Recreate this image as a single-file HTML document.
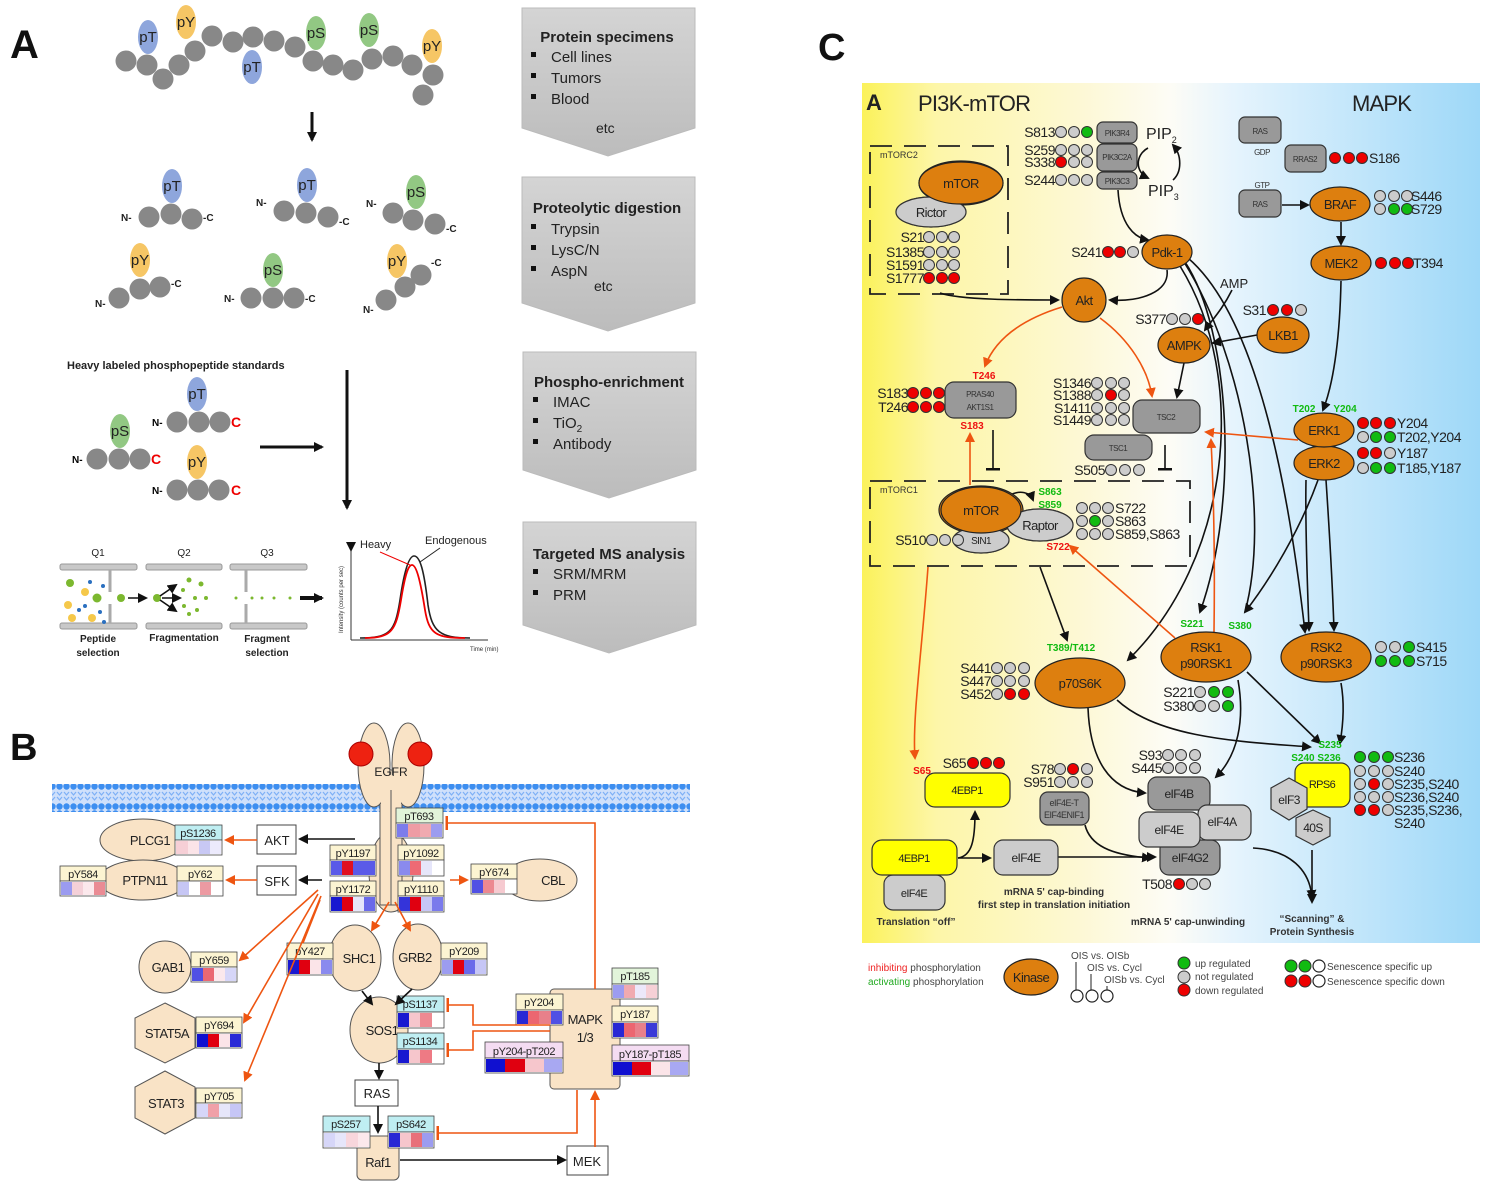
<!DOCTYPE html>
<html><head><meta charset="utf-8"><style>
body{margin:0;background:#fff}
svg{display:block;font-family:"Liberation Sans",Arial,sans-serif}
.t{font-size:14px;fill:#222}
.s{font-size:9px;fill:#222}
.n{font-size:13px;fill:#222;letter-spacing:-0.6px}
.g{fill:#ccc;stroke:#333;stroke-width:1}
.r{fill:#e00;stroke:#333;stroke-width:1}
.gr{fill:#1b1;stroke:#333;stroke-width:1}
.w{fill:#fff;stroke:#222;stroke-width:1.2}
.k{fill:#dd7f0f;stroke:#222;stroke-width:1.2}
.bx{fill:#999;stroke:#333;stroke-width:1.2}
.lb{fill:#ccc;stroke:#333;stroke-width:1.2}
.y{fill:#ff0;stroke:#333;stroke-width:1.2}
.ar{fill:none;stroke:#111;stroke-width:1.6}
.rd{fill:none;stroke:#e51;stroke-width:1.6}
.bb{fill:#888}
.hx{fill:#fff;stroke:#444;stroke-width:1}
.tan{fill:#f9e3c6;stroke:#555;stroke-width:1}
</style></head><body>
<svg width="1488" height="1185" viewBox="0 0 1488 1185" xmlns="http://www.w3.org/2000/svg">
<defs>
<marker id="ab" markerWidth="10" markerHeight="10" refX="8" refY="5" orient="auto" markerUnits="userSpaceOnUse"><path d="M0,0 L10,5 L0,10 z" fill="#111"/></marker>
<marker id="ar" markerWidth="10" markerHeight="10" refX="8" refY="5" orient="auto" markerUnits="userSpaceOnUse"><path d="M0,0 L10,5 L0,10 z" fill="#e51"/></marker>
<marker id="tb" markerWidth="4" markerHeight="14" refX="2" refY="7" orient="auto" markerUnits="userSpaceOnUse"><rect x="0" y="0" width="2.5" height="14" fill="#111"/></marker>
<marker id="tr" markerWidth="4" markerHeight="14" refX="2" refY="7" orient="auto" markerUnits="userSpaceOnUse"><rect x="0" y="0" width="2.5" height="14" fill="#e51"/></marker>
<linearGradient id="bg" x1="0" x2="1" y1="0" y2="0">
<stop offset="0" stop-color="#fbf25a"/><stop offset="0.12" stop-color="#fdf6a8"/><stop offset="0.35" stop-color="#fdf8d4"/><stop offset="0.5" stop-color="#fdfcf6"/><stop offset="0.6" stop-color="#e6f4fd"/><stop offset="1" stop-color="#9ed8f8"/></linearGradient>
<linearGradient id="gb" x1="0" x2="0" y1="0" y2="1"><stop offset="0" stop-color="#d4d4d4"/><stop offset="1" stop-color="#bcbcbc"/></linearGradient>
<pattern id="mem" width="7" height="27" patternUnits="userSpaceOnUse"><rect width="7" height="27" fill="#cfe0fb"/><circle cx="3.5" cy="3.5" r="3.2" fill="#3d8ef0"/><circle cx="3.5" cy="23.5" r="3.2" fill="#3d8ef0"/><path d="M1,9 L3.5,12 L6,9 M1,14 L3.5,17 L6,14" stroke="#7eb0f6" fill="none" stroke-width="1.2"/></pattern>
</defs>

<!-- ===== PANEL A ===== -->
<text x="10" y="58" font-size="40" font-weight="bold" fill="#111">A</text>
<g fill="#888">
<circle cx="126" cy="61" r="10.5"/><circle cx="147" cy="65" r="10.5"/><circle cx="163" cy="79" r="10.5"/><circle cx="179" cy="65" r="10.5"/><circle cx="195" cy="51" r="10.5"/><circle cx="212" cy="36" r="10.5"/><circle cx="233" cy="42" r="10.5"/><circle cx="253" cy="37" r="10.5"/><circle cx="274" cy="41" r="10.5"/><circle cx="295" cy="47" r="10.5"/><circle cx="313" cy="61" r="10.5"/><circle cx="333" cy="65" r="10.5"/><circle cx="353" cy="70" r="10.5"/><circle cx="372" cy="59" r="10.5"/><circle cx="393" cy="56" r="10.5"/><circle cx="412" cy="65" r="10.5"/><circle cx="433" cy="75" r="10.5"/><circle cx="423" cy="95" r="10.5"/>
</g>
<g font-size="15" text-anchor="middle" fill="#222">
<ellipse cx="148" cy="37" rx="10" ry="17" fill="#8ea6dc"/><text x="148" y="42">pT</text>
<ellipse cx="186" cy="22" rx="10" ry="17" fill="#f6c665"/><text x="186" y="27">pY</text>
<ellipse cx="252" cy="67" rx="10" ry="17" fill="#8ea6dc"/><text x="252" y="72">pT</text>
<ellipse cx="316" cy="33" rx="10" ry="17" fill="#92c883"/><text x="316" y="38">pS</text>
<ellipse cx="369" cy="30" rx="10" ry="17" fill="#92c883"/><text x="369" y="35">pS</text>
<ellipse cx="432" cy="46" rx="10" ry="17" fill="#f6c665"/><text x="432" y="51">pY</text>
</g>
<line x1="312" y1="112" x2="312" y2="140" stroke="#111" stroke-width="3" marker-end="url(#ab)"/>
<!-- peptides -->
<g font-size="15" text-anchor="middle" fill="#222">
<ellipse cx="172" cy="186" rx="10" ry="17" fill="#8ea6dc"/><text x="172" y="191">pT</text>
<ellipse cx="307" cy="185" rx="10" ry="17" fill="#8ea6dc"/><text x="307" y="190">pT</text>
<ellipse cx="416" cy="192" rx="10" ry="17" fill="#92c883"/><text x="416" y="197">pS</text>
<ellipse cx="140" cy="260" rx="10" ry="17" fill="#f6c665"/><text x="140" y="265">pY</text>
<ellipse cx="273" cy="270" rx="10" ry="17" fill="#92c883"/><text x="273" y="275">pS</text>
<ellipse cx="397" cy="261" rx="10" ry="17" fill="#f6c665"/><text x="397" y="266">pY</text>
</g>
<g fill="#888">
<circle cx="149" cy="217" r="10.5"/><circle cx="171" cy="214" r="10.5"/><circle cx="192" cy="219" r="10.5"/>
<circle cx="284" cy="211" r="10.5"/><circle cx="306" cy="213" r="10.5"/><circle cx="328" cy="217" r="10.5"/>
<circle cx="393" cy="213" r="10.5"/><circle cx="413" cy="220" r="10.5"/><circle cx="435" cy="224" r="10.5"/>
<circle cx="119" cy="298" r="10.5"/><circle cx="140" cy="289" r="10.5"/><circle cx="160" cy="287" r="10.5"/>
<circle cx="251" cy="298" r="10.5"/><circle cx="273" cy="298" r="10.5"/><circle cx="294" cy="298" r="10.5"/>
<circle cx="386" cy="300" r="10.5"/><circle cx="405" cy="287" r="10.5"/><circle cx="421" cy="275" r="10.5"/>
</g>
<g font-size="10" font-weight="bold" fill="#222">
<text x="121" y="221">N-</text><text x="203" y="221">-C</text>
<text x="256" y="206">N-</text><text x="339" y="225">-C</text>
<text x="366" y="207">N-</text><text x="446" y="232">-C</text>
<text x="95" y="307">N-</text><text x="171" y="287">-C</text>
<text x="224" y="302">N-</text><text x="305" y="302">-C</text>
<text x="363" y="313">N-</text><text x="431" y="266">-C</text>
</g>
<text x="67" y="369" font-size="11" font-weight="bold" fill="#222">Heavy labeled phosphopeptide standards</text>
<g font-size="15" text-anchor="middle" fill="#222">
<ellipse cx="120" cy="431" rx="10" ry="17" fill="#92c883"/><text x="120" y="436">pS</text>
<ellipse cx="197" cy="394" rx="10" ry="17" fill="#8ea6dc"/><text x="197" y="399">pT</text>
<ellipse cx="197" cy="462" rx="10" ry="17" fill="#f6c665"/><text x="197" y="467">pY</text>
</g>
<g fill="#888">
<circle cx="97" cy="459" r="10.5"/><circle cx="119" cy="459" r="10.5"/><circle cx="140" cy="459" r="10.5"/>
<circle cx="177" cy="422" r="10.5"/><circle cx="199" cy="422" r="10.5"/><circle cx="220" cy="422" r="10.5"/>
<circle cx="177" cy="490" r="10.5"/><circle cx="198" cy="490" r="10.5"/><circle cx="219" cy="490" r="10.5"/>
</g>
<g font-size="10" font-weight="bold"><text x="72" y="463">N-</text><text x="152" y="426">N-</text><text x="152" y="494">N-</text>
<text x="151" y="464" fill="#e00" font-size="14">C</text><text x="231" y="427" fill="#e00" font-size="14">C</text><text x="231" y="495" fill="#e00" font-size="14">C</text></g>
<line x1="260" y1="447" x2="322" y2="447" stroke="#111" stroke-width="3" marker-end="url(#ab)"/>
<line x1="347" y1="370" x2="347" y2="508" stroke="#111" stroke-width="3" marker-end="url(#ab)"/>
<!-- MS diagram -->
<g font-size="10" text-anchor="middle" fill="#222"><text x="98" y="556">Q1</text><text x="184" y="556">Q2</text><text x="267" y="556">Q3</text>
<g font-weight="bold"><text x="98" y="642">Peptide</text><text x="98" y="656">selection</text><text x="184" y="641">Fragmentation</text><text x="267" y="642">Fragment</text><text x="267" y="656">selection</text></g></g>
<g fill="#c8c8c8" stroke="#999"><rect x="60" y="564" width="77" height="6" rx="2"/><rect x="146" y="564" width="76" height="6" rx="2"/><rect x="230" y="564" width="77" height="6" rx="2"/>
<rect x="60" y="623" width="77" height="6" rx="2"/><rect x="146" y="623" width="76" height="6" rx="2"/><rect x="230" y="623" width="77" height="6" rx="2"/></g>
<g stroke="#aaa" stroke-width="3"><line x1="110" y1="570" x2="110" y2="592"/><line x1="110" y1="604" x2="110" y2="623"/><line x1="246" y1="570" x2="246" y2="592"/><line x1="246" y1="604" x2="246" y2="623"/></g>
<g fill="#7cb82f"><circle cx="70" cy="583" r="4"/><circle cx="97" cy="598" r="4.5"/><circle cx="121" cy="598" r="4"/><circle cx="157" cy="598" r="4"/><circle cx="189" cy="580" r="2.5"/><circle cx="201" cy="584" r="2.5"/><circle cx="183" cy="590" r="2"/><circle cx="195" cy="598" r="2"/><circle cx="206" cy="598" r="2"/><circle cx="184" cy="606" r="2"/><circle cx="197" cy="610" r="2"/><circle cx="189" cy="614" r="2"/><circle cx="236" cy="598" r="1.5"/><circle cx="252" cy="598" r="1.5"/><circle cx="262" cy="598" r="1.5"/><circle cx="274" cy="598" r="1.5"/><circle cx="290" cy="598" r="1.5"/></g>
<g fill="#f5c84a"><circle cx="68" cy="605" r="4"/><circle cx="85" cy="592" r="4"/><circle cx="72" cy="618" r="4"/><circle cx="92" cy="618" r="4"/></g>
<g fill="#2a6fc0"><circle cx="90" cy="582" r="2"/><circle cx="103" cy="586" r="2"/><circle cx="85" cy="606" r="2"/><circle cx="100" cy="612" r="2"/><circle cx="104" cy="622" r="2"/><circle cx="79" cy="610" r="2"/></g>
<g stroke="#111" stroke-width="1.6"><line x1="128" y1="598" x2="146" y2="598" marker-end="url(#ab)"/><line x1="160" y1="596" x2="176" y2="585" marker-end="url(#ab)"/><line x1="162" y1="598" x2="180" y2="598" marker-end="url(#ab)"/><line x1="160" y1="600" x2="176" y2="611" marker-end="url(#ab)"/></g>
<line x1="300" y1="598" x2="322" y2="598" stroke="#111" stroke-width="4" marker-end="url(#ab)"/>
<g stroke="#333" fill="none"><line x1="351" y1="550" x2="351" y2="640" marker-start="url(#ab)"/><line x1="351" y1="640" x2="488" y2="640"/></g>
<text transform="translate(343,633) rotate(-90)" font-size="6" fill="#333">Intensity (counts per sec)</text>
<text x="470" y="651" font-size="6" fill="#333">Time (min)</text>
<path d="M360,638 C390,638 395,632 400,600 C405,565 410,556 414,556 C420,556 424,570 428,605 C432,632 440,638 470,638" fill="none" stroke="#222" stroke-width="1.6"/>
<path d="M365,638 C392,638 396,630 401,600 C405,575 408,565 412,565 C416,565 420,578 425,610 C429,634 436,638 465,638" fill="none" stroke="#e00" stroke-width="1.8"/>
<text x="360" y="548" font-size="11" fill="#222">Heavy</text><text x="425" y="544" font-size="11" fill="#222">Endogenous</text>
<line x1="380" y1="552" x2="410" y2="565" stroke="#e00" stroke-width="1"/><line x1="440" y1="548" x2="420" y2="562" stroke="#222" stroke-width="1"/>
<!-- chevrons -->
<g fill="url(#gb)" stroke="#bbb">
<path d="M522,8 H695 V128 L608,156 L522,128 Z"/>
<path d="M522,177 H695 V303 L608,331 L522,303 Z"/>
<path d="M523,352 H696 V470 L609,498 L523,470 Z"/>
<path d="M523,522 H696 V625 L609,653 L523,625 Z"/>
</g>
<g font-size="15" fill="#222">
<text x="607" y="42" text-anchor="middle" font-weight="bold">Protein specimens</text>
<text x="551" y="62">Cell lines</text><text x="551" y="83">Tumors</text><text x="551" y="104">Blood</text><text x="596" y="133" font-size="14">etc</text>
<text x="607" y="213" text-anchor="middle" font-weight="bold">Proteolytic digestion</text>
<text x="551" y="234">Trypsin</text><text x="551" y="255">LysC/N</text><text x="551" y="276">AspN</text><text x="594" y="291" font-size="14">etc</text>
<text x="609" y="387" text-anchor="middle" font-weight="bold">Phospho-enrichment</text>
<text x="553" y="407">IMAC</text><text x="553" y="428">TiO<tspan font-size="10" dy="4">2</tspan></text><text x="553" y="449">Antibody</text>
<text x="609" y="559" text-anchor="middle" font-weight="bold">Targeted MS analysis</text>
<text x="553" y="579">SRM/MRM</text><text x="553" y="600">PRM</text>
</g>
<g fill="#111"><rect x="531" y="52" width="5" height="5"/><rect x="531" y="73" width="5" height="5"/><rect x="531" y="94" width="5" height="5"/><rect x="531" y="224" width="5" height="5"/><rect x="531" y="245" width="5" height="5"/><rect x="531" y="266" width="5" height="5"/><rect x="533" y="397" width="5" height="5"/><rect x="533" y="418" width="5" height="5"/><rect x="533" y="439" width="5" height="5"/><rect x="533" y="569" width="5" height="5"/><rect x="533" y="590" width="5" height="5"/></g>

<!-- ===== PANEL B ===== -->
<text x="10" y="760" font-size="38" font-weight="bold" fill="#111">B</text>
<rect x="52" y="784" width="638" height="28" fill="url(#mem)"/>
<g class="tan">
<ellipse cx="391" cy="872" rx="22" ry="40"/>
<rect x="380" y="770" width="22" height="135"/>
<ellipse cx="374" cy="765" rx="16" ry="42"/><ellipse cx="408" cy="765" rx="16" ry="42"/>
</g>
<rect x="381" y="775" width="20" height="128" fill="#f9e3c6"/>
<line x1="391" y1="790" x2="391" y2="905" stroke="#555"/>
<circle cx="361" cy="754" r="12" fill="#e21" stroke="#a00"/><circle cx="420" cy="754" r="12" fill="#e21" stroke="#a00"/>
<text x="391" y="776" font-size="12" text-anchor="middle" fill="#222">EGFR</text>
<!-- tan nodes -->
<g class="tan">
<ellipse cx="143" cy="840" rx="43" ry="21"/>
<ellipse cx="143" cy="880" rx="44" ry="20"/>
<ellipse cx="540" cy="880" rx="37" ry="21"/>
<ellipse cx="355" cy="958" rx="26" ry="33"/>
<ellipse cx="418" cy="957" rx="25" ry="33"/>
<circle cx="165" cy="967" r="26"/>
<polygon points="165,1003 195,1018 195,1048 165,1063 135,1048 135,1018"/>
<polygon points="165,1071 195,1087 195,1118 165,1134 135,1118 135,1087"/>
<ellipse cx="379" cy="1030" rx="29" ry="33"/>
<rect x="550" y="989" width="70" height="100" rx="4"/>
<rect x="357" y="1136" width="42" height="44" rx="5"/>
</g>
<g font-size="13" fill="#222" text-anchor="middle" letter-spacing="-0.5">
<text x="150" y="845">PLCG1</text><text x="145" y="885">PTPN11</text><text x="553" y="885">CBL</text><text x="359" y="963">SHC1</text><text x="415" y="962">GRB2</text><text x="168" y="972">GAB1</text><text x="167" y="1038">STAT5A</text><text x="166" y="1108">STAT3</text><text x="382" y="1035">SOS1</text><text x="585" y="1024">MAPK</text><text x="585" y="1042">1/3</text><text x="378" y="1167">Raf1</text>
</g>
<g fill="#fff" stroke="#444"><rect x="257" y="825" width="39" height="29"/><rect x="257" y="866" width="39" height="29"/><rect x="355" y="1080" width="43" height="26"/><rect x="567" y="1146" width="41" height="29"/></g>
<g font-size="13" fill="#222" text-anchor="middle"><text x="277" y="845">AKT</text><text x="277" y="886">SFK</text><text x="377" y="1098">RAS</text><text x="587" y="1166">MEK</text></g>
<!-- heat boxes -->
<g font-size="11" fill="#222" text-anchor="middle" letter-spacing="-0.4" stroke-width="0.8">
<g><rect x="175" y="825" width="47" height="15" fill="#bfeef2" stroke="#444"/><text x="198" y="837">pS1236</text><rect x="175" y="840" width="47" height="15" fill="#fff" stroke="#444"/><rect x="176" y="841" width="12" height="13" fill="#f6cfd6"/><rect x="188" y="841" width="11" height="13" fill="#fbe4e8"/><rect x="199" y="841" width="11" height="13" fill="#c8c8f4"/><rect x="210" y="841" width="11" height="13" fill="#eceafc"/></g>
<g><rect x="60" y="866" width="46" height="15" fill="#fcf4d2" stroke="#444"/><text x="83" y="878">pY584</text><rect x="60" y="881" width="46" height="15" fill="#fff" stroke="#444"/><rect x="61" y="882" width="11" height="13" fill="#9b9bf0"/><rect x="72" y="882" width="11" height="13" fill="#f4d0d8"/><rect x="83" y="882" width="11" height="13" fill="#fbe8ec"/><rect x="94" y="882" width="11" height="13" fill="#ea8b94"/></g>
<g><rect x="177" y="866" width="46" height="15" fill="#fcf4d2" stroke="#444"/><text x="200" y="878">pY62</text><rect x="177" y="881" width="46" height="15" fill="#fff" stroke="#444"/><rect x="178" y="882" width="11" height="13" fill="#c6c6f4"/><rect x="189" y="882" width="11" height="13" fill="#fff"/><rect x="200" y="882" width="11" height="13" fill="#ec9aa2"/><rect x="211" y="882" width="11" height="13" fill="#fff"/></g>
<g><rect x="396" y="808" width="47" height="15" fill="#e2f4da" stroke="#444"/><text x="419" y="820">pT693</text><rect x="396" y="823" width="47" height="15" fill="#fff" stroke="#444"/><rect x="397" y="824" width="11" height="13" fill="#7c7cec"/><rect x="408" y="824" width="12" height="13" fill="#ee9ca4"/><rect x="420" y="824" width="11" height="13" fill="#f0aab0"/><rect x="431" y="824" width="11" height="13" fill="#9c9cf0"/></g>
<g><rect x="330" y="845" width="46" height="15" fill="#fcf4d2" stroke="#444"/><text x="353" y="857">pY1197</text><rect x="330" y="860" width="46" height="16" fill="#fff" stroke="#444"/><rect x="331" y="861" width="11" height="14" fill="#5a5ae8"/><rect x="342" y="861" width="11" height="14" fill="#e01020"/><rect x="353" y="861" width="11" height="14" fill="#5a5ae8"/><rect x="364" y="861" width="11" height="14" fill="#5a5ae8"/></g>
<g><rect x="398" y="845" width="46" height="15" fill="#fcf4d2" stroke="#444"/><text x="421" y="857">pY1092</text><rect x="398" y="860" width="46" height="16" fill="#fff" stroke="#444"/><rect x="399" y="861" width="11" height="14" fill="#8a8aee"/><rect x="410" y="861" width="11" height="14" fill="#ee6a74"/><rect x="421" y="861" width="11" height="14" fill="#e6e6fa"/><rect x="432" y="861" width="11" height="14" fill="#fff"/></g>
<g><rect x="330" y="881" width="46" height="15" fill="#fcf4d2" stroke="#444"/><text x="353" y="893">pY1172</text><rect x="330" y="896" width="46" height="16" fill="#fff" stroke="#444"/><rect x="331" y="897" width="11" height="14" fill="#1818d0"/><rect x="342" y="897" width="11" height="14" fill="#e00010"/><rect x="353" y="897" width="11" height="14" fill="#e6e6fa"/><rect x="364" y="897" width="11" height="14" fill="#6a6aea"/></g>
<g><rect x="398" y="881" width="46" height="15" fill="#fcf4d2" stroke="#444"/><text x="421" y="893">pY1110</text><rect x="398" y="896" width="46" height="16" fill="#fff" stroke="#444"/><rect x="399" y="897" width="11" height="14" fill="#3434da"/><rect x="410" y="897" width="11" height="14" fill="#e00010"/><rect x="421" y="897" width="11" height="14" fill="#c6c6f6"/><rect x="432" y="897" width="11" height="14" fill="#7a7aec"/></g>
<g><rect x="471" y="864" width="46" height="15" fill="#fcf4d2" stroke="#444"/><text x="494" y="876">pY674</text><rect x="471" y="879" width="46" height="15" fill="#fff" stroke="#444"/><rect x="472" y="880" width="11" height="13" fill="#5050e4"/><rect x="483" y="880" width="11" height="13" fill="#ec8890"/><rect x="494" y="880" width="11" height="13" fill="#f6cad0"/><rect x="505" y="880" width="11" height="13" fill="#fff"/></g>
<g><rect x="287" y="943" width="46" height="16" fill="#fcf4d2" stroke="#444"/><text x="310" y="955">pY427</text><rect x="287" y="959" width="46" height="16" fill="#fff" stroke="#444"/><rect x="288" y="960" width="11" height="14" fill="#1818d0"/><rect x="299" y="960" width="11" height="14" fill="#e00010"/><rect x="310" y="960" width="11" height="14" fill="#fbe4e8"/><rect x="321" y="960" width="11" height="14" fill="#8a8aee"/></g>
<g><rect x="441" y="943" width="46" height="16" fill="#fcf4d2" stroke="#444"/><text x="464" y="955">pY209</text><rect x="441" y="959" width="46" height="16" fill="#fff" stroke="#444"/><rect x="442" y="960" width="11" height="14" fill="#9c9cf0"/><rect x="453" y="960" width="11" height="14" fill="#e00010"/><rect x="464" y="960" width="11" height="14" fill="#6a6aea"/><rect x="475" y="960" width="11" height="14" fill="#c6c6f6"/></g>
<g><rect x="191" y="952" width="46" height="15" fill="#fcf4d2" stroke="#444"/><text x="214" y="964">pY659</text><rect x="191" y="967" width="46" height="15" fill="#fff" stroke="#444"/><rect x="192" y="968" width="11" height="13" fill="#5050e4"/><rect x="203" y="968" width="11" height="13" fill="#ea6872"/><rect x="214" y="968" width="11" height="13" fill="#fbe8ec"/><rect x="225" y="968" width="11" height="13" fill="#d6d6f8"/></g>
<g><rect x="196" y="1017" width="46" height="16" fill="#fcf4d2" stroke="#444"/><text x="219" y="1029">pY694</text><rect x="196" y="1033" width="46" height="15" fill="#fff" stroke="#444"/><rect x="197" y="1034" width="11" height="13" fill="#1010d0"/><rect x="208" y="1034" width="11" height="13" fill="#e00010"/><rect x="219" y="1034" width="11" height="13" fill="#fbe4e8"/><rect x="230" y="1034" width="11" height="13" fill="#2a2ad6"/></g>
<g><rect x="196" y="1088" width="46" height="15" fill="#fcf4d2" stroke="#444"/><text x="219" y="1100">pY705</text><rect x="196" y="1103" width="46" height="15" fill="#fff" stroke="#444"/><rect x="197" y="1104" width="11" height="13" fill="#d6d6f8"/><rect x="208" y="1104" width="11" height="13" fill="#f0a0a8"/><rect x="219" y="1104" width="11" height="13" fill="#e6e6fa"/><rect x="230" y="1104" width="11" height="13" fill="#c6c6f6"/></g>
<g><rect x="397" y="996" width="47" height="16" fill="#bfeef2" stroke="#444"/><text x="420" y="1008">pS1137</text><rect x="397" y="1012" width="47" height="16" fill="#fff" stroke="#444"/><rect x="398" y="1013" width="11" height="14" fill="#1818d0"/><rect x="409" y="1013" width="11" height="14" fill="#f6c6cc"/><rect x="420" y="1013" width="12" height="14" fill="#ee8a92"/><rect x="432" y="1013" width="11" height="14" fill="#fff"/></g>
<g><rect x="397" y="1033" width="47" height="16" fill="#bfeef2" stroke="#444"/><text x="420" y="1045">pS1134</text><rect x="397" y="1049" width="47" height="15" fill="#fff" stroke="#444"/><rect x="398" y="1050" width="11" height="13" fill="#1818d0"/><rect x="409" y="1050" width="11" height="13" fill="#f6c6cc"/><rect x="420" y="1050" width="12" height="13" fill="#ee7a84"/><rect x="432" y="1050" width="11" height="13" fill="#fff"/></g>
<g><rect x="612" y="968" width="46" height="16" fill="#e2f4da" stroke="#444"/><text x="635" y="980">pT185</text><rect x="612" y="984" width="46" height="15" fill="#fff" stroke="#444"/><rect x="613" y="985" width="11" height="13" fill="#9c9cf0"/><rect x="624" y="985" width="11" height="13" fill="#f0aab0"/><rect x="635" y="985" width="11" height="13" fill="#ece8fa"/><rect x="646" y="985" width="11" height="13" fill="#f6d0d6"/></g>
<g><rect x="612" y="1006" width="46" height="16" fill="#fcf4d2" stroke="#444"/><text x="635" y="1018">pY187</text><rect x="612" y="1022" width="46" height="16" fill="#fff" stroke="#444"/><rect x="613" y="1023" width="11" height="14" fill="#2828d4"/><rect x="624" y="1023" width="11" height="14" fill="#ec6670"/><rect x="635" y="1023" width="11" height="14" fill="#e8808a"/><rect x="646" y="1023" width="11" height="14" fill="#3a3ad8"/></g>
<g><rect x="516" y="994" width="47" height="16" fill="#fcf4d2" stroke="#444"/><text x="539" y="1006">pY204</text><rect x="516" y="1010" width="47" height="15" fill="#fff" stroke="#444"/><rect x="517" y="1011" width="11" height="13" fill="#2828d4"/><rect x="528" y="1011" width="11" height="13" fill="#ec6670"/><rect x="539" y="1011" width="12" height="13" fill="#e8808a"/><rect x="551" y="1011" width="11" height="13" fill="#5050e4"/></g>
<g><rect x="485" y="1042" width="78" height="16" fill="#f4dcf2" stroke="#444"/><text x="524" y="1055">pY204-pT202</text><rect x="485" y="1058" width="78" height="15" fill="#fff" stroke="#444"/><rect x="486" y="1059" width="19" height="13" fill="#1010d0"/><rect x="505" y="1059" width="20" height="13" fill="#e00010"/><rect x="525" y="1059" width="19" height="13" fill="#f6c6cc"/><rect x="544" y="1059" width="18" height="13" fill="#a8a8f2"/></g>
<g><rect x="612" y="1045" width="77" height="16" fill="#f4dcf2" stroke="#444"/><text x="650" y="1058">pY187-pT185</text><rect x="612" y="1061" width="77" height="15" fill="#fff" stroke="#444"/><rect x="613" y="1062" width="19" height="13" fill="#1010d0"/><rect x="632" y="1062" width="19" height="13" fill="#e00010"/><rect x="651" y="1062" width="19" height="13" fill="#fbe4e8"/><rect x="670" y="1062" width="18" height="13" fill="#a8a8f2"/></g>
<g><rect x="323" y="1116" width="47" height="16" fill="#bfeef2" stroke="#444"/><text x="346" y="1128">pS257</text><rect x="323" y="1132" width="47" height="16" fill="#fff" stroke="#444"/><rect x="324" y="1133" width="11" height="14" fill="#d6d6f8"/><rect x="335" y="1133" width="11" height="14" fill="#e6e6fa"/><rect x="346" y="1133" width="12" height="14" fill="#f8d6dc"/><rect x="358" y="1133" width="11" height="14" fill="#fbe8ec"/></g>
<g><rect x="388" y="1116" width="46" height="16" fill="#bfeef2" stroke="#444"/><text x="411" y="1128">pS642</text><rect x="388" y="1132" width="46" height="16" fill="#fff" stroke="#444"/><rect x="389" y="1133" width="11" height="14" fill="#2828d4"/><rect x="400" y="1133" width="11" height="14" fill="#f6c6cc"/><rect x="411" y="1133" width="11" height="14" fill="#e8707a"/><rect x="422" y="1133" width="11" height="14" fill="#9c9cf0"/></g>
</g>
<!-- B arrows -->
<g stroke-width="1.6" fill="none">
<line x1="355" y1="839" x2="300" y2="839" stroke="#111" marker-end="url(#ab)"/>
<line x1="322" y1="880" x2="300" y2="880" stroke="#111" marker-end="url(#ab)"/>
<line x1="257" y1="840" x2="226" y2="840" stroke="#e51" marker-end="url(#ar)"/>
<line x1="257" y1="880" x2="227" y2="880" stroke="#e51" marker-end="url(#ar)"/>
<line x1="450" y1="880" x2="467" y2="880" stroke="#e51" marker-end="url(#ar)"/>
<line x1="318" y1="890" x2="240" y2="960" stroke="#e51" marker-end="url(#ar)"/>
<line x1="318" y1="894" x2="244" y2="1022" stroke="#e51" marker-end="url(#ar)"/>
<line x1="321" y1="896" x2="245" y2="1080" stroke="#e51" marker-end="url(#ar)"/>
<line x1="320" y1="900" x2="303" y2="943" stroke="#e51"/>
<line x1="389" y1="902" x2="372" y2="930" stroke="#e51" marker-end="url(#ar)"/>
<line x1="395" y1="902" x2="410" y2="930" stroke="#e51" marker-end="url(#ar)"/>
<line x1="362" y1="991" x2="372" y2="1004" stroke="#111" marker-end="url(#ab)"/>
<line x1="412" y1="989" x2="396" y2="1004" stroke="#111" marker-end="url(#ab)"/>
<line x1="379" y1="1063" x2="379" y2="1078" stroke="#111" marker-end="url(#ab)"/>
<line x1="378" y1="1106" x2="378" y2="1132" stroke="#111" marker-end="url(#ab)"/>
<line x1="400" y1="1160" x2="565" y2="1160" stroke="#111" marker-end="url(#ab)"/>
<line x1="595" y1="1147" x2="595" y2="1092" stroke="#e51" marker-end="url(#ar)"/>
<polyline points="577,1090 577,1133 437,1133" stroke="#e51" marker-end="url(#tr)"/>
<polyline points="595,989 595,823 446,823" stroke="#e51" marker-end="url(#tr)"/>
<polyline points="550,1025 473,1025 473,1005 447,1005" stroke="#e51" marker-end="url(#tr)"/>
<polyline points="550,1031 473,1031 473,1050 447,1050" stroke="#e51" marker-end="url(#tr)"/>
</g>

<!-- ===== PANEL C ===== -->
<text x="818" y="60" font-size="38" font-weight="bold" fill="#111">C</text>
<rect x="862" y="83" width="618" height="860" fill="url(#bg)"/>
<text x="866" y="110" font-size="22" font-weight="bold" fill="#222">A</text>
<text x="918" y="111" font-size="22" fill="#222" letter-spacing="-0.8">PI3K-mTOR</text>
<text x="1352" y="111" font-size="22" fill="#222" letter-spacing="-0.8">MAPK</text>
<!-- dashed boxes -->
<g fill="none" stroke="#222" stroke-width="1.8" stroke-dasharray="22,12">
<rect x="870" y="146" width="138" height="148"/>
<rect x="870" y="481" width="320" height="85"/>
</g>
<text x="880" y="158" font-size="9" fill="#333">mTORC2</text>
<text x="880" y="493" font-size="9" fill="#333">mTORC1</text>
<!-- arrows black -->
<g class="ar">
<path d="M1118,190 C1120,225 1135,238 1148,240" marker-end="url(#ab)"/>
<path d="M1148,148 C1135,155 1135,172 1148,178" marker-end="url(#ab)"/>
<path d="M1173,180 C1182,172 1182,155 1173,145" marker-end="url(#ab)"/>
<path d="M940,293 C960,300 1020,300 1058,300" marker-end="url(#ab)"/>
<path d="M1167,270 C1170,292 1140,302 1110,300" marker-end="url(#ab)"/>
<path d="M1185,262 C1230,330 1240,500 1200,612" marker-end="url(#ab)"/>
<path d="M1180,266 C1250,380 1230,560 1128,660" marker-end="url(#ab)"/>
<path d="M1188,258 C1260,320 1290,500 1305,632" marker-end="url(#ab)"/>
<path d="M1184,262 C1245,360 1270,520 1245,612"/>
<path d="M1232,290 C1222,310 1212,320 1205,330" marker-end="url(#ab)"/>
<path d="M1257,335 L1213,343" marker-end="url(#ab)"/>
<path d="M1184,363 L1177,397" marker-end="url(#ab)"/>
<path d="M1282,205 L1308,205" marker-end="url(#ab)"/>
<path d="M1341,222 L1341,244" marker-end="url(#ab)"/>
<path d="M1341,281 C1340,330 1335,380 1323,410" marker-end="url(#ab)"/>
<path d="M1318,480 C1300,530 1270,580 1245,612" marker-end="url(#ab)"/>
<path d="M1326,480 C1330,540 1333,600 1334,630" marker-end="url(#ab)"/>
<path d="M1306,480 C1305,530 1308,600 1309,630" marker-end="url(#ab)"/>
<path d="M1040,567 L1067,640" marker-end="url(#ab)"/>
<path d="M1088,708 C1090,760 1110,790 1145,793" marker-end="url(#ab)"/>
<path d="M1117,700 C1160,740 1250,742 1310,747" marker-end="url(#ab)"/>
<path d="M1247,672 L1320,743" marker-end="url(#ab)"/>
<path d="M1341,683 C1344,700 1344,720 1340,743" marker-end="url(#ab)"/>
<path d="M1238,680 C1245,720 1238,755 1216,777" marker-end="url(#ab)"/>
<path d="M958,858 C972,856 975,840 975,812" marker-end="url(#ab)"/>
<path d="M958,858 L990,858" marker-end="url(#ab)"/>
<path d="M1058,857 L1155,857" marker-end="url(#ab)"/>
<path d="M1085,825 C1090,845 1110,855 1150,858" marker-end="url(#ab)"/>
<path d="M1253,848 C1290,850 1310,870 1312,898" marker-end="url(#ab)"/>
<path d="M1312,850 L1312,902" marker-end="url(#ab)"/>
<path d="M1165,445 L1165,470" marker-end="url(#tb)"/>
<path d="M993,430 L993,470" marker-end="url(#tb)"/>
<path d="M1010,495 C1020,490 1030,492 1033,500" marker-end="url(#ab)"/>
</g>
<g class="rd">
<path d="M1062,307 C1020,320 995,340 985,366" marker-end="url(#ar)"/>
<path d="M1100,318 C1130,340 1148,370 1152,396" marker-end="url(#ar)"/>
<path d="M970,485 L970,434" marker-end="url(#ar)"/>
<path d="M1298,440 L1206,432" marker-end="url(#ar)"/>
<path d="M1214,632 C1215,560 1214,500 1211,440" marker-end="url(#ar)"/>
<path d="M1175,638 L1070,546" marker-end="url(#ar)"/>
<path d="M928,567 C922,650 912,720 915,758" marker-end="url(#ar)"/>
</g>
<!-- gray boxes -->
<g class="bx">
<rect x="1097" y="122" width="40" height="21" rx="6"/><rect x="1097" y="144" width="40" height="27" rx="6"/><rect x="1097" y="172" width="40" height="17" rx="6"/>
<rect x="1239" y="117" width="42" height="26" rx="6"/><rect x="1285" y="145" width="41" height="27" rx="6"/><rect x="1239" y="190" width="42" height="27" rx="6"/>
<rect x="945" y="382" width="71" height="36" rx="9"/>
<rect x="1085" y="435" width="67" height="25" rx="9"/>
<rect x="1133" y="400" width="67" height="33" rx="9"/>
<rect x="1040" y="792" width="49" height="33" rx="8"/>
<rect x="1148" y="777" width="62" height="33" rx="9"/>
<rect x="1160" y="840" width="60" height="35" rx="9"/>
</g>
<g class="lb">
<rect x="1198" y="805" width="53" height="35" rx="9"/>
<rect x="1139" y="812" width="61" height="35" rx="9"/>
<rect x="994" y="840" width="64" height="35" rx="9"/>
<rect x="884" y="875" width="61" height="35" rx="9"/>
<ellipse cx="931" cy="212" rx="35" ry="15"/>
<ellipse cx="1040" cy="525" rx="33" ry="16"/>
<ellipse cx="981" cy="540" rx="28" ry="13"/>
<polygon points="1313,810 1330,818 1330,836 1313,845 1296,836 1296,818"/>
</g>
<g class="y"><rect x="925" y="773" width="85" height="34" rx="10"/><rect x="1295" y="763" width="55" height="44" rx="9"/><rect x="872" y="840" width="85" height="35" rx="10"/></g>
<polygon class="lb" points="1289,778 1307,788 1307,809 1289,820 1271,809 1271,788"/>
<g class="k">
<ellipse cx="961" cy="183" rx="42" ry="22"/>
<circle cx="1084" cy="300" r="22"/>
<ellipse cx="1167" cy="252" rx="25" ry="17"/>
<ellipse cx="1184" cy="345" rx="26" ry="18"/>
<ellipse cx="1283" cy="335" rx="26" ry="18"/>
<ellipse cx="1340" cy="204" rx="30" ry="17"/>
<ellipse cx="1341" cy="263" rx="30" ry="17"/>
<ellipse cx="1324" cy="463" rx="30" ry="17"/>
<ellipse cx="1324" cy="430" rx="30" ry="17"/>
<ellipse cx="981" cy="510" rx="42" ry="24"/>
<ellipse cx="1080" cy="683" rx="45" ry="25"/>
<ellipse cx="1206" cy="657" rx="45" ry="25"/>
<ellipse cx="1326" cy="657" rx="45" ry="25"/>
</g>
<ellipse class="lb" cx="1040" cy="525" rx="33" ry="16"/>
<ellipse class="lb" cx="981" cy="540" rx="28" ry="13"/>
<ellipse class="k" cx="981" cy="510" rx="40" ry="23"/>
<ellipse class="lb" cx="931" cy="212" rx="35" ry="15"/>
<ellipse class="k" cx="961" cy="183" rx="42" ry="21"/>
<!-- node labels -->
<g class="n" text-anchor="middle">
<text x="961" y="188">mTOR</text><text x="931" y="217">Rictor</text><text x="1084" y="305">Akt</text><text x="1167" y="257">Pdk-1</text><text x="1184" y="350">AMPK</text><text x="1283" y="340">LKB1</text><text x="1340" y="209">BRAF</text><text x="1341" y="268">MEK2</text><text x="1324" y="435">ERK1</text><text x="1324" y="468">ERK2</text><text x="981" y="515">mTOR</text><text x="1040" y="530">Raptor</text><text x="981" y="544" font-size="10">SIN1</text>
<text x="1080" y="688">p70S6K</text><text x="1206" y="652">RSK1</text><text x="1206" y="668">p90RSK1</text><text x="1326" y="652">RSK2</text><text x="1326" y="668">p90RSK3</text>
<text x="967" y="794" font-size="11">4EBP1</text><text x="914" y="862" font-size="11">4EBP1</text><text x="914" y="897" font-size="11">eIF4E</text><text x="1026" y="862" font-size="12">eIF4E</text>
<text x="1179" y="798" font-size="12">eIF4B</text><text x="1169" y="834" font-size="12">eIF4E</text><text x="1222" y="826" font-size="12">eIF4A</text><text x="1190" y="862" font-size="12">eIF4G2</text>
<text x="1322" y="788" font-size="11">RPS6</text><text x="1289" y="804" font-size="12">eIF3</text><text x="1313" y="832" font-size="12">40S</text>
</g>
<g font-size="8" fill="#333" text-anchor="middle" letter-spacing="-0.5">
<text x="1117" y="136">PIK3R4</text><text x="1117" y="160">PIK3C2A</text><text x="1117" y="184">PIK3C3</text>
<text x="1260" y="134">RAS</text><text x="1305" y="162">RRAS2</text><text x="1260" y="207">RAS</text>
<text x="1262" y="155">GDP</text><text x="1262" y="188">GTP</text>
<text x="980" y="397">PRAS40</text><text x="980" y="410">AKT1S1</text>
<text x="1166" y="420">TSC2</text><text x="1118" y="451">TSC1</text>
<text x="1064" y="806" font-size="9">eIF4E-T</text><text x="1064" y="818" font-size="9">EIF4ENIF1</text>
</g>
<text x="1146" y="139" font-size="16" fill="#222">PIP<tspan font-size="9" dy="4">2</tspan></text>
<text x="1148" y="196" font-size="16" fill="#222">PIP<tspan font-size="9" dy="4">3</tspan></text>
<text x="1220" y="288" font-size="13" fill="#222">AMP</text>
<!-- site labels -->
<g class="t" letter-spacing="-0.5">
<g text-anchor="end">
<text x="1055" y="137">S813</text><text x="1055" y="155">S259</text><text x="1055" y="167">S338</text><text x="1055" y="185">S244</text>
<text x="924" y="242">S21</text><text x="924" y="257">S1385</text><text x="924" y="270">S1591</text><text x="924" y="283">S1777</text>
<text x="1102" y="257">S241</text><text x="1166" y="324">S377</text><text x="1266" y="315">S31</text>
<text x="908" y="398">S183</text><text x="908" y="412">T246</text>
<text x="1091" y="388">S1346</text><text x="1091" y="400">S1388</text><text x="1091" y="413">S1411</text><text x="1091" y="425">S1449</text>
<text x="1105" y="475">S505</text><text x="926" y="545">S510</text>
<text x="991" y="673">S441</text><text x="991" y="686">S447</text><text x="991" y="699">S452</text>
<text x="1194" y="697">S221</text><text x="1194" y="711">S380</text>
<text x="966" y="768">S65</text><text x="1054" y="774">S78</text><text x="1054" y="787">S951</text>
<text x="1162" y="760">S93</text><text x="1162" y="773">S445</text><text x="1172" y="889">T508</text>
</g>
<text x="1369" y="163">S186</text><text x="1411" y="201">S446</text><text x="1411" y="214">S729</text><text x="1413" y="268">T394</text>
<text x="1397" y="428">Y204</text><text x="1397" y="442">T202,Y204</text><text x="1397" y="458">Y187</text><text x="1397" y="473">T185,Y187</text>
<text x="1115" y="513">S722</text><text x="1115" y="526">S863</text><text x="1115" y="539">S859,S863</text>
<text x="1416" y="652">S415</text><text x="1416" y="666">S715</text>
<text x="1394" y="762">S236</text><text x="1394" y="776">S240</text><text x="1394" y="789">S235,S240</text><text x="1394" y="802">S236,S240</text><text x="1394" y="815">S235,S236,</text><text x="1394" y="828">S240</text>
</g>
<g font-size="10" font-weight="bold" text-anchor="middle">
<text x="984" y="379" fill="#e11">T246</text><text x="972" y="429" fill="#e11">S183</text>
<text x="1050" y="495" fill="#1b1">S863</text><text x="1050" y="508" fill="#1b1">S859</text><text x="1058" y="550" fill="#e11">S722</text>
<text x="1304" y="412" fill="#1b1">T202</text><text x="1345" y="412" fill="#1b1">Y204</text>
<text x="1071" y="651" fill="#1b1">T389/T412</text><text x="1192" y="627" fill="#1b1">S221</text><text x="1240" y="629" fill="#1b1">S380</text>
<text x="922" y="774" fill="#e11">S65</text><text x="1330" y="748" fill="#1b1">S235</text><text x="1316" y="761" fill="#1b1">S240 S236</text>
</g>
<!-- circles -->
<g>
<circle class="g" cx="1061" cy="132" r="5.5"/><circle class="g" cx="1074" cy="132" r="5.5"/><circle class="gr" cx="1087" cy="132" r="5.5"/>
<circle class="g" cx="1061" cy="150" r="5.5"/><circle class="g" cx="1074" cy="150" r="5.5"/><circle class="g" cx="1087" cy="150" r="5.5"/>
<circle class="r" cx="1061" cy="162" r="5.5"/><circle class="g" cx="1074" cy="162" r="5.5"/><circle class="g" cx="1087" cy="162" r="5.5"/>
<circle class="g" cx="1061" cy="180" r="5.5"/><circle class="g" cx="1074" cy="180" r="5.5"/><circle class="g" cx="1087" cy="180" r="5.5"/>
<circle class="g" cx="929" cy="237" r="5.5"/><circle class="g" cx="942" cy="237" r="5.5"/><circle class="g" cx="954" cy="237" r="5.5"/>
<circle class="g" cx="929" cy="252" r="5.5"/><circle class="g" cx="942" cy="252" r="5.5"/><circle class="g" cx="954" cy="252" r="5.5"/>
<circle class="g" cx="929" cy="265" r="5.5"/><circle class="g" cx="942" cy="265" r="5.5"/><circle class="g" cx="954" cy="265" r="5.5"/>
<circle class="r" cx="929" cy="278" r="5.5"/><circle class="r" cx="942" cy="278" r="5.5"/><circle class="r" cx="954" cy="278" r="5.5"/>
<circle class="r" cx="1108" cy="252" r="5.5"/><circle class="r" cx="1120" cy="252" r="5.5"/><circle class="g" cx="1133" cy="252" r="5.5"/>
<circle class="g" cx="1172" cy="319" r="5.5"/><circle class="g" cx="1185" cy="319" r="5.5"/><circle class="r" cx="1198" cy="319" r="5.5"/>
<circle class="r" cx="1273" cy="310" r="5.5"/><circle class="r" cx="1287" cy="310" r="5.5"/><circle class="g" cx="1301" cy="310" r="5.5"/>
<circle class="r" cx="1335" cy="158" r="5.5"/><circle class="r" cx="1349" cy="158" r="5.5"/><circle class="r" cx="1362" cy="158" r="5.5"/>
<circle class="g" cx="1380" cy="196" r="5.5"/><circle class="g" cx="1394" cy="196" r="5.5"/><circle class="g" cx="1407" cy="196" r="5.5"/>
<circle class="g" cx="1380" cy="209" r="5.5"/><circle class="gr" cx="1394" cy="209" r="5.5"/><circle class="gr" cx="1407" cy="209" r="5.5"/>
<circle class="r" cx="1381" cy="263" r="5.5"/><circle class="r" cx="1395" cy="263" r="5.5"/><circle class="r" cx="1408" cy="263" r="5.5"/>
<circle class="r" cx="1363" cy="423" r="5.5"/><circle class="r" cx="1376" cy="423" r="5.5"/><circle class="r" cx="1390" cy="423" r="5.5"/>
<circle class="g" cx="1363" cy="437" r="5.5"/><circle class="gr" cx="1376" cy="437" r="5.5"/><circle class="gr" cx="1390" cy="437" r="5.5"/>
<circle class="r" cx="1363" cy="453" r="5.5"/><circle class="r" cx="1376" cy="453" r="5.5"/><circle class="g" cx="1390" cy="453" r="5.5"/>
<circle class="g" cx="1363" cy="468" r="5.5"/><circle class="gr" cx="1376" cy="468" r="5.5"/><circle class="gr" cx="1390" cy="468" r="5.5"/>
<circle class="r" cx="913" cy="393" r="5.5"/><circle class="r" cx="926" cy="393" r="5.5"/><circle class="r" cx="939" cy="393" r="5.5"/>
<circle class="r" cx="913" cy="407" r="5.5"/><circle class="r" cx="926" cy="407" r="5.5"/><circle class="r" cx="939" cy="407" r="5.5"/>
<circle class="g" cx="1097" cy="383" r="5.5"/><circle class="g" cx="1111" cy="383" r="5.5"/><circle class="g" cx="1124" cy="383" r="5.5"/>
<circle class="g" cx="1097" cy="395" r="5.5"/><circle class="r" cx="1111" cy="395" r="5.5"/><circle class="g" cx="1124" cy="395" r="5.5"/>
<circle class="g" cx="1097" cy="408" r="5.5"/><circle class="g" cx="1111" cy="408" r="5.5"/><circle class="g" cx="1124" cy="408" r="5.5"/>
<circle class="g" cx="1097" cy="420" r="5.5"/><circle class="g" cx="1111" cy="420" r="5.5"/><circle class="g" cx="1124" cy="420" r="5.5"/>
<circle class="g" cx="1111" cy="470" r="5.5"/><circle class="g" cx="1125" cy="470" r="5.5"/><circle class="g" cx="1139" cy="470" r="5.5"/>
<circle class="g" cx="932" cy="540" r="5.5"/><circle class="g" cx="945" cy="540" r="5.5"/><circle class="g" cx="958" cy="540" r="5.5"/>
<circle class="g" cx="1082" cy="508" r="5.5"/><circle class="g" cx="1095" cy="508" r="5.5"/><circle class="g" cx="1108" cy="508" r="5.5"/>
<circle class="g" cx="1082" cy="521" r="5.5"/><circle class="gr" cx="1095" cy="521" r="5.5"/><circle class="g" cx="1108" cy="521" r="5.5"/>
<circle class="g" cx="1082" cy="534" r="5.5"/><circle class="g" cx="1095" cy="534" r="5.5"/><circle class="g" cx="1108" cy="534" r="5.5"/>
<circle class="g" cx="997" cy="668" r="5.5"/><circle class="g" cx="1010" cy="668" r="5.5"/><circle class="g" cx="1024" cy="668" r="5.5"/>
<circle class="g" cx="997" cy="681" r="5.5"/><circle class="g" cx="1010" cy="681" r="5.5"/><circle class="g" cx="1024" cy="681" r="5.5"/>
<circle class="g" cx="997" cy="694" r="5.5"/><circle class="r" cx="1010" cy="694" r="5.5"/><circle class="r" cx="1024" cy="694" r="5.5"/>
<circle class="g" cx="1200" cy="692" r="5.5"/><circle class="gr" cx="1214" cy="692" r="5.5"/><circle class="gr" cx="1228" cy="692" r="5.5"/>
<circle class="g" cx="1200" cy="706" r="5.5"/><circle class="g" cx="1214" cy="706" r="5.5"/><circle class="gr" cx="1228" cy="706" r="5.5"/>
<circle class="g" cx="1381" cy="647" r="5.5"/><circle class="g" cx="1395" cy="647" r="5.5"/><circle class="gr" cx="1409" cy="647" r="5.5"/>
<circle class="gr" cx="1381" cy="661" r="5.5"/><circle class="gr" cx="1395" cy="661" r="5.5"/><circle class="gr" cx="1409" cy="661" r="5.5"/>
<circle class="r" cx="973" cy="763" r="5.5"/><circle class="r" cx="986" cy="763" r="5.5"/><circle class="r" cx="999" cy="763" r="5.5"/>
<circle class="g" cx="1060" cy="769" r="5.5"/><circle class="r" cx="1073" cy="769" r="5.5"/><circle class="g" cx="1087" cy="769" r="5.5"/>
<circle class="g" cx="1060" cy="782" r="5.5"/><circle class="g" cx="1073" cy="782" r="5.5"/><circle class="g" cx="1087" cy="782" r="5.5"/>
<circle class="g" cx="1168" cy="755" r="5.5"/><circle class="g" cx="1181" cy="755" r="5.5"/><circle class="g" cx="1195" cy="755" r="5.5"/>
<circle class="g" cx="1168" cy="768" r="5.5"/><circle class="g" cx="1181" cy="768" r="5.5"/><circle class="g" cx="1195" cy="768" r="5.5"/>
<circle class="r" cx="1179" cy="884" r="5.5"/><circle class="g" cx="1192" cy="884" r="5.5"/><circle class="g" cx="1205" cy="884" r="5.5"/>
<circle class="gr" cx="1360" cy="757" r="5.5"/><circle class="gr" cx="1374" cy="757" r="5.5"/><circle class="gr" cx="1388" cy="757" r="5.5"/>
<circle class="g" cx="1360" cy="771" r="5.5"/><circle class="g" cx="1374" cy="771" r="5.5"/><circle class="g" cx="1388" cy="771" r="5.5"/>
<circle class="g" cx="1360" cy="784" r="5.5"/><circle class="r" cx="1374" cy="784" r="5.5"/><circle class="g" cx="1388" cy="784" r="5.5"/>
<circle class="g" cx="1360" cy="797" r="5.5"/><circle class="g" cx="1374" cy="797" r="5.5"/><circle class="g" cx="1388" cy="797" r="5.5"/>
<circle class="r" cx="1360" cy="810" r="5.5"/><circle class="r" cx="1374" cy="810" r="5.5"/><circle class="g" cx="1388" cy="810" r="5.5"/>
</g>
<!-- bottom captions -->
<g font-size="10" font-weight="bold" fill="#333" text-anchor="middle">
<text x="916" y="925">Translation “off”</text>
<text x="1054" y="895">mRNA 5' cap-binding</text><text x="1054" y="908">first step in translation initiation</text>
<text x="1188" y="925">mRNA 5' cap-unwinding</text>
<text x="1312" y="922">“Scanning” &amp;</text><text x="1312" y="935">Protein Synthesis</text>
</g>
<!-- legend -->
<g font-size="10" fill="#444">
<text x="868" y="971"><tspan fill="#e22">inhibiting</tspan> phosphorylation</text>
<text x="868" y="985"><tspan fill="#2a2">activating</tspan> phosphorylation</text>
<text x="1071" y="959">OIS vs. OISb</text><text x="1087" y="971">OIS vs. Cycl</text><text x="1104" y="983">OISb vs. Cycl</text>
<text x="1195" y="967">up regulated</text><text x="1195" y="980">not regulated</text><text x="1195" y="994">down regulated</text>
<text x="1327" y="970">Senescence specific up</text><text x="1327" y="985">Senescence specific down</text>
</g>
<ellipse class="k" cx="1031" cy="977" rx="27" ry="18"/><text x="1031" y="982" class="n" text-anchor="middle">Kinase</text>
<g stroke="#222" stroke-width="1"><line x1="1076" y1="962" x2="1076" y2="990"/><line x1="1091" y1="974" x2="1091" y2="990"/><line x1="1107" y1="986" x2="1107" y2="990"/></g>
<circle class="w" cx="1077" cy="996" r="6"/><circle class="w" cx="1092" cy="996" r="6"/><circle class="w" cx="1107" cy="996" r="6"/>
<circle class="gr" cx="1184" cy="963" r="6"/><circle class="g" cx="1184" cy="977" r="6"/><circle class="r" cx="1184" cy="990" r="6"/>
<circle class="gr" cx="1291" cy="966" r="6"/><circle class="gr" cx="1305" cy="966" r="6"/><circle class="w" cx="1319" cy="966" r="6"/>
<circle class="r" cx="1291" cy="981" r="6"/><circle class="r" cx="1305" cy="981" r="6"/><circle class="w" cx="1319" cy="981" r="6"/>
</svg>
</body></html>
